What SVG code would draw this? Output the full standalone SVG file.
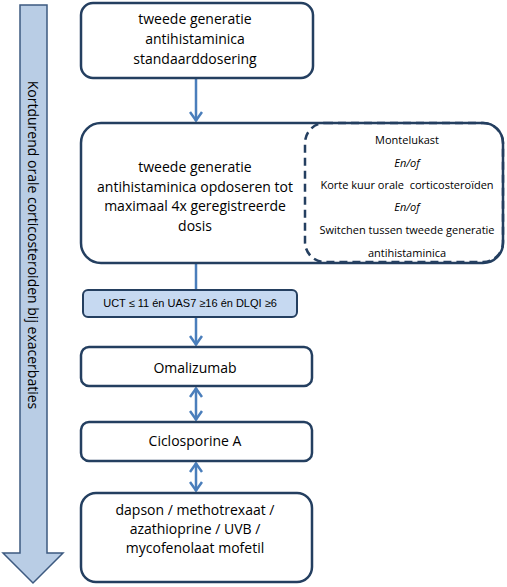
<svg xmlns="http://www.w3.org/2000/svg" width="507" height="587" viewBox="0 0 507 587">
<defs>
<style>
.box{fill:#fff;stroke:#243f60;stroke-width:2.5}
.t{font-family:"Open Sans","Liberation Sans",sans-serif;font-size:14px;fill:#000;text-anchor:middle}
.s{font-family:"Open Sans","Liberation Sans",sans-serif;font-size:11px;fill:#000;text-anchor:middle}
.c{stroke:#4a7ebb;stroke-width:2.5;fill:none}
</style>
<marker id="ah" viewBox="0 0 12 14" refX="11" refY="7" markerWidth="12" markerHeight="14" orient="auto-start-reverse" markerUnits="userSpaceOnUse">
<path d="M2,1 L10.5,7 L2,13" fill="none" stroke="#4a7ebb" stroke-width="2.5" stroke-linejoin="miter"/>
</marker>
</defs>
<g id="side-arrow">
<path d="M20,5 L47,5 L47,553 L63,553 L33,583 L3,553 L20,553 Z" fill="#b9cde5" stroke="#3d5a80" stroke-width="1.5"/>
<text class="t" transform="translate(33,245) rotate(90)" font-size="15" y="5">Kortdurend orale corticosteroiden bij exacerbaties</text>
</g>
<g id="connectors">
<line class="c" x1="196" y1="79" x2="196" y2="121" marker-end="url(#ah)"/>
<line class="c" x1="196" y1="264" x2="196" y2="289"/>
<line class="c" x1="196" y1="318" x2="196" y2="345" marker-end="url(#ah)"/>
<line class="c" x1="196" y1="388" x2="196" y2="420" marker-start="url(#ah)" marker-end="url(#ah)"/>
<line class="c" x1="196" y1="463" x2="196" y2="491" marker-start="url(#ah)" marker-end="url(#ah)"/>
</g>
<g id="n1">
<rect class="box" x="81" y="3" width="232" height="75" rx="12"/>
<text class="t" x="195" y="24">tweede generatie</text>
<text class="t" x="195" y="44">antihistaminica</text>
<text class="t" x="195" y="64">standaarddosering</text>
</g>
<g id="n2">
<rect class="box" x="81" y="123" width="422" height="140" rx="20"/>
<text class="t" x="195" y="172">tweede generatie</text>
<text class="t" x="195" y="192">antihistaminica opdoseren tot</text>
<text class="t" x="195" y="211">maximaal 4x geregistreerde</text>
<text class="t" x="195" y="231">dosis</text>
</g>
<g id="n3">
<rect x="305" y="123" width="198" height="139" rx="20" fill="none" stroke="#243f60" stroke-width="2.5" stroke-dasharray="8,5"/>
<text class="s" x="407" y="144">Montelukast</text>
<text class="s" x="407" y="167" font-style="italic">En/of</text>
<text class="s" x="407" y="189" xml:space="preserve">Korte kuur orale  corticosteroïden</text>
<text class="s" x="407" y="211" font-style="italic">En/of</text>
<text class="s" x="407" y="234">Switchen tussen tweede generatie</text>
<text class="s" x="407" y="257">antihistaminica</text>
</g>
<g id="n4">
<rect x="83" y="290" width="214" height="27" rx="5" fill="#c6d9f1" stroke="#243f60" stroke-width="2"/>
<text x="190" y="307" font-family="Liberation Sans,Arial,sans-serif" font-size="11" text-anchor="middle">UCT ≤ 11 én UAS7 ≥16 én DLQI ≥6</text>
</g>
<g id="n5">
<rect class="box" x="81" y="347" width="231" height="39" rx="8"/>
<text class="t" x="195" y="373">Omalizumab</text>
</g>
<g id="n6">
<rect class="box" x="81" y="422" width="231" height="39" rx="8"/>
<text class="t" x="195" y="446">Ciclosporine A</text>
</g>
<g id="n7">
<rect class="box" x="81" y="493" width="231" height="89" rx="15"/>
<text class="t" x="195" y="515">dapson / methotrexaat /</text>
<text class="t" x="195" y="534">azathioprine / UVB /</text>
<text class="t" x="195" y="553">mycofenolaat mofetil</text>
</g>
</svg>
